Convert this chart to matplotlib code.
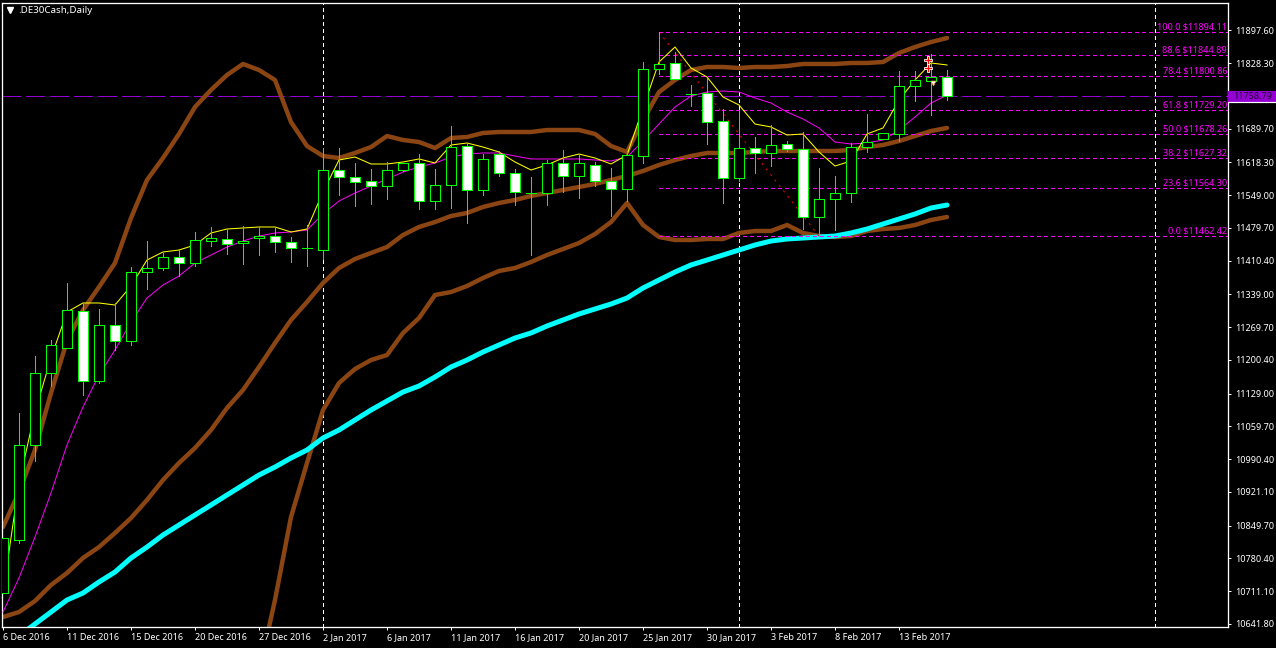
import numpy as np
import matplotlib
matplotlib.use('Agg')
import matplotlib.pyplot as plt
from matplotlib.patches import Rectangle

plt.rcParams['font.family'] = ['Noto Sans', 'DejaVu Sans']
plt.rcParams['lines.scale_dashes'] = False

# --- prices ---
opens = [10707.3, 10819.5, 11020.5, 11172.8, 11225.7, 11304.0, 11155.9, 11274.4, 11240.5, 11386.5,
         11395.0, 11418.3, 11405.6, 11452.1, 11456.4, 11447.9, 11458.5, 11462.7, 11450.0, 11437.3,
         11433.1, 11602.4, 11587.6, 11579.1, 11568.5, 11602.4, 11617.2, 11536.8, 11570.6, 11653.2,
         11560.1, 11636.2, 11596.0, 11553.7, 11553.7, 11617.2, 11589.7, 11613.0, 11579.1, 11562.2,
         11632.0, 11816.1, 11828.8, 11763.2, 11765.3, 11706.1, 11585.5, 11648.9, 11638.4, 11657.4,
         11646.8, 11502.9, 11541.0, 11553.7, 11651.0, 11668.0, 11678.6, 11780.1, 11790.7, 11799.2]
highs = [10823.7, 11088.2, 11208.8, 11242.7, 11363.3, 11321.0, 11308.3, 11321.0, 11397.1, 11452.1,
         11426.8, 11433.1, 11471.2, 11481.8, 11477.5, 11483.9, 11481.8, 11481.8, 11460.6, 11486.0,
         11648.9, 11648.9, 11617.2, 11604.5, 11619.3, 11617.2, 11636.2, 11604.5, 11695.5, 11659.5,
         11636.2, 11642.6, 11604.5, 11587.6, 11623.5, 11644.7, 11634.1, 11619.3, 11606.6, 11642.6,
         11830.9, 11894.11, 11852.1, 11782.2, 11797.1, 11731.5, 11727.2, 11672.2, 11697.6, 11663.7,
         11682.8, 11606.6, 11589.7, 11659.5, 11720.9, 11680.7, 11811.9, 11811.9, 11847.8, 11814.0]
lows = [10707.3, 10813.1, 10986.6, 11145.3, 11225.7, 11126.3, 11151.7, 11221.5, 11232.1, 11350.6,
        11390.8, 11378.1, 11399.2, 11441.6, 11424.6, 11403.5, 11422.5, 11428.9, 11407.7, 11399.2,
        11414.1, 11549.5, 11526.2, 11530.4, 11541.0, 11600.3, 11519.9, 11519.9, 11522.0, 11490.2,
        11549.5, 11589.7, 11528.3, 11422.5, 11528.3, 11555.8, 11543.1, 11568.5, 11505.0, 11536.8,
        11617.2, 11805.5, 11794.9, 11737.8, 11657.4, 11532.6, 11579.1, 11596.0, 11610.8, 11642.6,
        11477.5, 11462.42, 11475.4, 11534.7, 11640.5, 11668.0, 11663.7, 11748.4, 11718.8, 11750.5]
closes = [10823.7, 11020.5, 11172.8, 11232.1, 11306.1, 11155.9, 11274.4, 11240.5, 11386.5, 11395.0,
          11418.3, 11405.6, 11454.3, 11458.5, 11445.8, 11452.1, 11462.7, 11450.0, 11437.3, 11437.3,
          11602.4, 11587.6, 11577.0, 11568.5, 11602.4, 11617.2, 11536.8, 11570.6, 11651.0, 11560.1,
          11625.7, 11596.0, 11555.8, 11553.7, 11617.2, 11589.7, 11617.2, 11579.1, 11562.2, 11634.1,
          11816.1, 11826.7, 11794.9, 11763.2, 11703.9, 11585.5, 11648.9, 11638.4, 11655.3, 11646.8,
          11502.9, 11541.0, 11553.7, 11651.0, 11661.6, 11680.7, 11780.1, 11792.8, 11799.2, 11758.79]

# bollinger style bands (brown)
band_upper = [10847.0, 10921.0, 11009.9, 11130.5, 11240.5, 11306.1, 11354.8, 11405.6, 11500.8, 11581.2,
              11627.8, 11678.6, 11735.7, 11771.7, 11803.4, 11826.7, 11814.0, 11792.8, 11703.9, 11653.2,
              11632.0, 11627.8, 11638.4, 11651.0, 11674.3, 11665.9, 11661.6, 11648.9, 11670.1, 11672.2,
              11680.7, 11682.8, 11682.8, 11682.8, 11687.0, 11687.0, 11687.0, 11678.6, 11653.2, 11640.5,
              11708.2, 11767.4, 11792.8, 11814.0, 11820.3, 11820.3, 11818.2, 11820.3, 11820.3, 11822.4,
              11826.7, 11826.7, 11826.7, 11828.8, 11828.8, 11830.9, 11850.0, 11862.6, 11873.2, 11881.7]
band_mid = [10656.5, 10667.1, 10690.4, 10724.2, 10749.6, 10781.4, 10804.6, 10834.3, 10866.0, 10904.1,
            10946.4, 10982.4, 11014.1, 11052.2, 11098.8, 11136.9, 11185.5, 11236.3, 11285.0, 11323.1,
            11363.3, 11395.0, 11414.1, 11426.8, 11439.4, 11464.8, 11481.8, 11492.3, 11505.0, 11511.4,
            11524.1, 11532.6, 11538.9, 11547.4, 11553.7, 11560.1, 11566.4, 11572.8, 11581.2, 11589.7,
            11600.3, 11613.0, 11623.5, 11632.0, 11638.4, 11638.4, 11638.4, 11640.5, 11642.6, 11642.6,
            11642.6, 11642.6, 11642.6, 11644.7, 11651.0, 11655.3, 11663.7, 11674.3, 11684.9, 11691.3]
# lower band is below the visible window for the first bars
band_lower = [np.nan] * 16 + [
    10540.0, 10692.5, 10868.1, 10982.4, 11094.5, 11151.7, 11181.3, 11200.3, 11210.9, 11257.5,
    11289.2, 11337.9, 11344.2, 11356.9, 11373.9, 11388.7, 11395.0, 11407.7, 11422.5, 11435.2,
    11447.9, 11467.0, 11492.3, 11532.6, 11486.0, 11460.6, 11454.3, 11454.3, 11456.4, 11456.4,
    11469.1, 11473.3, 11473.3, 11486.0, 11469.1, 11462.7, 11460.6, 11462.7, 11473.3, 11477.5,
    11479.7, 11486.0, 11496.6, 11502.9]
ma_cyan = [10590.9, 10616.3, 10641.7, 10667.1, 10692.5, 10707.3, 10730.6, 10751.7, 10781.4, 10804.6,
           10830.0, 10851.2, 10872.4, 10893.5, 10914.7, 10935.8, 10957.0, 10973.9, 10993.0, 11009.9,
           11035.3, 11052.2, 11073.4, 11094.5, 11113.6, 11132.6, 11145.3, 11164.4, 11185.5, 11200.3,
           11217.3, 11232.1, 11246.9, 11257.5, 11272.3, 11285.0, 11297.7, 11308.3, 11318.8, 11331.5,
           11352.7, 11369.6, 11386.5, 11401.4, 11411.9, 11422.5, 11433.1, 11443.7, 11452.1, 11456.4,
           11458.5, 11460.6, 11462.7, 11469.1, 11477.5, 11488.1, 11498.7, 11509.3, 11522.0, 11528.3]
ma_yellow = [10707.3, 10940.1, 11090.3, 11204.6, 11301.9, 11321.0, 11321.0, 11316.7, 11356.9, 11411.9,
             11428.9, 11433.1, 11443.7, 11469.1, 11477.5, 11479.7, 11481.8, 11481.8, 11471.2, 11477.5,
             11555.8, 11623.5, 11629.9, 11615.1, 11615.1, 11619.3, 11625.7, 11617.2, 11655.3, 11659.5,
             11651.0, 11640.5, 11619.3, 11602.4, 11613.0, 11627.8, 11636.2, 11627.8, 11615.1, 11634.1,
             11733.6, 11830.9, 11862.6, 11818.2, 11799.2, 11756.8, 11739.9, 11699.7, 11693.4, 11676.4,
             11678.6, 11640.5, 11610.8, 11621.4, 11678.6, 11691.3, 11750.5, 11792.8, 11828.8, 11824.6]
ma_magenta = [10667.1, 10739.1, 10825.8, 10918.9, 11020.5, 11100.9, 11168.6, 11221.5, 11280.7, 11331.5,
              11359.0, 11378.1, 11405.6, 11422.5, 11439.4, 11452.1, 11462.7, 11469.1, 11471.2, 11475.4,
              11509.3, 11536.8, 11553.7, 11568.5, 11583.3, 11598.1, 11608.7, 11617.2, 11629.9, 11636.2,
              11638.4, 11638.4, 11632.0, 11625.7, 11625.7, 11625.7, 11625.7, 11623.5, 11621.4, 11629.9,
              11663.7, 11699.7, 11735.7, 11759.0, 11767.4, 11769.5, 11767.4, 11754.7, 11744.1, 11725.1,
              11710.3, 11691.3, 11661.6, 11657.4, 11659.5, 11665.9, 11687.0, 11714.5, 11744.1, 11761.1]

# fibo levels
fib_pct = ['100.0', '88.6', '78.4', '61.8', '50.0', '38.2', '23.6', '0.0']
fib_price = [11894.11, 11844.89, 11800.86, 11729.20, 11678.26, 11627.32, 11564.30, 11462.42]
fib_start_bar = 41
fib_trend_bars = [41, 51]
fib_trend_prices = [11894.11, 11462.42]

current_price = 11758.79
sep_bars = [20, 46, 72]
trade_bars = [57.8, 57.8]
trade_prices = [11835.1, 11818.2]
exit_bar = [58.1]
exit_price = [11786.5]

y_tick_vals = [11897.60, 11828.30, 11689.70, 11618.30, 11549.00, 11479.70, 11410.40, 11339.00, 11269.70,
               11200.40, 11129.00, 11059.70, 10990.40, 10921.10, 10849.70, 10780.40, 10711.10, 10641.80]
x_tick_bars = list(range(0, 60, 4))
x_tick_labels = ['6 Dec 2016', '11 Dec 2016', '15 Dec 2016', '20 Dec 2016', '27 Dec 2016', '2 Jan 2017',
                 '6 Jan 2017', '11 Jan 2017', '16 Jan 2017', '20 Jan 2017', '25 Jan 2017', '30 Jan 2017',
                 '3 Feb 2017', '8 Feb 2017', '13 Feb 2017']

# --- figure ---
W, H = 1276, 648
fig = plt.figure(figsize=(W / 100, H / 100), dpi=100, facecolor='black')
ax = fig.add_axes([2.5 / W, (H - 627) / H, 1225.5 / W, 624.5 / H], facecolor='black')
ax.set_xlim(-0.03, 76.56)
ax.set_ylim(10635.4, 11956.8)

bars = np.arange(len(closes))
px = 0.72  # 1 pixel in points
thin = 0.5  # aliased lines come out about 1 pixel with this

for s in ax.spines.values():
    s.set_color('white')
    s.set_linewidth(px * 1.3)

# separators and price levels
for b in sep_bars:
    ax.axvline(b, color='white', lw=thin, ls=(0, (2.2, 2.2)), zorder=1, antialiased=False)
ax.axhline(current_price, color='#9400D3', lw=thin, ls=(0, (13, 4.3)), zorder=1, antialiased=False)

# indicators
for band in (band_upper, band_mid, band_lower):
    ax.plot(bars, band, color='#8B4513', lw=3.2, zorder=2, solid_capstyle='round')
ax.plot(bars, ma_cyan, color='#00FFFF', lw=3.6, zorder=2.2, solid_capstyle='round')

ax.hlines(fib_price, fib_start_bar, ax.get_xlim()[1], colors='#FF00FF', lw=thin,
          linestyles=[(0, (2.6, 2.6))], zorder=2.5, antialiased=False)
ax.plot(fib_trend_bars, fib_trend_prices, color='#FF0000', lw=px, ls=(0, (1.5, 3.5)), zorder=2.5)
for pct, p in zip(fib_pct, fib_price):
    ax.text(76.5, p + 1.5, f'{pct} ${p:.2f}', color='#FF00FF', fontsize=6.5, ha='right', va='bottom', zorder=7)

# thin averages look closer with smoothing on
ax.plot(bars, ma_magenta, color='#FF00FF', lw=0.7, zorder=3)
ax.plot(bars, ma_yellow, color='#FFFF00', lw=0.75, zorder=3)

# candles
ax.vlines(bars, lows, highs, colors='#00FF00', lw=thin, zorder=4, antialiased=False)
body_colors = ['white' if c < o else 'black' for o, c in zip(opens, closes)]
ax.bar(bars, np.array(closes) - np.array(opens), bottom=opens, width=10 / 16, color=body_colors,
       edgecolor='#00FF00', linewidth=px, zorder=5, antialiased=False)

# trade arrows
ax.plot(trade_bars, trade_prices, ls='none', marker='P', ms=6, mfc='#FF0000', mec='white', mew=0.6, zorder=6)
ax.plot(exit_bar, exit_price, ls='none', marker='v', ms=3.5, mfc='white', mec='#FFA040', mew=0.5, zorder=6)

# axes text
ax.yaxis.tick_right()
ax.set_yticks(y_tick_vals)
ax.set_yticklabels([f'{v:.2f}' for v in y_tick_vals])
ax.set_xticks(x_tick_bars)
ax.set_xticklabels(x_tick_labels, ha='left')
ax.tick_params(axis='both', colors='white', labelsize=6.5, length=2.4, width=px, pad=2.5)
ax.tick_params(axis='x', pad=2)

# current price tag
tag = Rectangle((1.0, current_price - 13), 48 / 1225.5, 23.3, transform=ax.get_yaxis_transform(),
                facecolor='#9400D3', edgecolor='none', clip_on=False, zorder=8)
ax.add_patch(tag)
ax.plot([1.0, 1.0 + 48 / 1225.5], [current_price - 11.5] * 2, color='white', lw=px * 1.2,
        transform=ax.get_yaxis_transform(), clip_on=False, zorder=8)
ax.text(1.0 + 5.5 / 1225.5, current_price - 1, f'{current_price:.2f}', color='#200030', fontsize=6.5,
        transform=ax.get_yaxis_transform(), va='center', ha='left', clip_on=False, zorder=9)

# title
ax.plot([0.006], [0.9875], marker='v', ms=4.5, color='white', mec='white', transform=ax.transAxes, zorder=8)
ax.text(0.0125, 0.9875, '.DE30Cash,Daily', color='white', fontsize=7, transform=ax.transAxes,
        va='center', ha='left', zorder=8)

fig.savefig('out.png', dpi=100, facecolor='black')
